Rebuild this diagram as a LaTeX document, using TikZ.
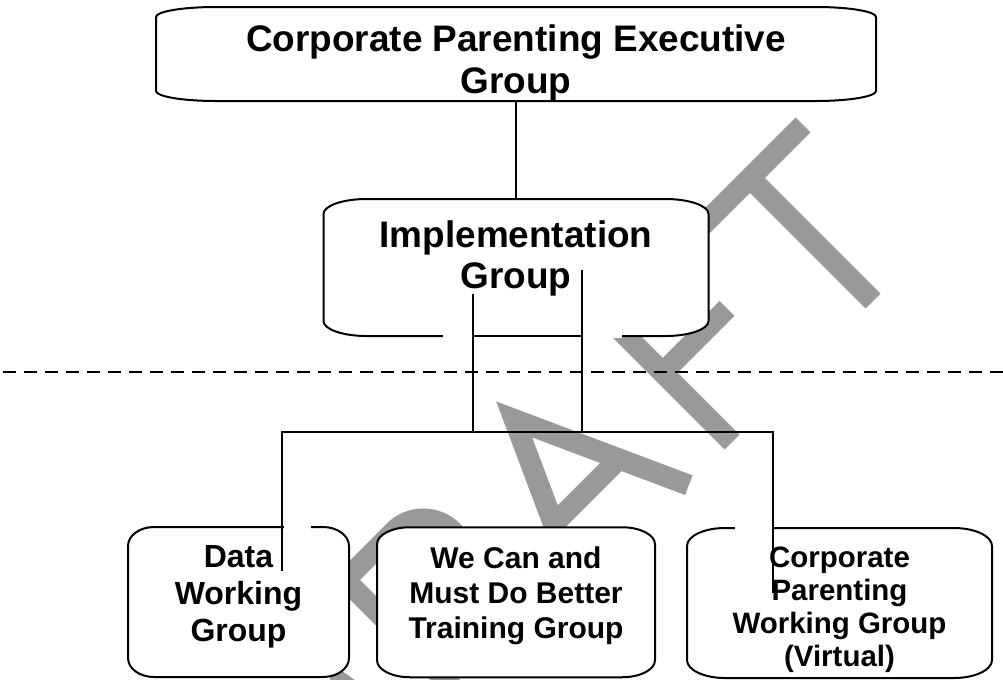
\documentclass[tikz,border=0pt]{standalone}
\usepackage{fontspec}
\newfontfamily\fArial{Liberation Sans}
\usetikzlibrary{calc}
\definecolor{wmgrey}{RGB}{153,153,153}
\newcommand\eoutline[3]{%
  \draw[boxline] ($(#1.north west)+(#2,0)$) -- ($(#1.north east)+(-#2,0)$)
    arc[start angle=90, end angle=0, x radius=#2*0.75pt, y radius=#3*0.75pt]
    -- ($(#1.south east)+(0,-#3)$)
    arc[start angle=0, end angle=-90, x radius=#2*0.75pt, y radius=#3*0.75pt]
    -- ($(#1.south west)+(#2,0)$)
    arc[start angle=270, end angle=180, x radius=#2*0.75pt, y radius=#3*0.75pt]
    -- ($(#1.north west)+(0,#3)$)
    arc[start angle=180, end angle=90, x radius=#2*0.75pt, y radius=#3*0.75pt]
    -- cycle;}
\begin{document}
\begin{tikzpicture}[x=0.75pt, y=-0.75pt,
  boxnode/.style={rectangle, inner sep=0pt, outer sep=0pt, draw=none},
  boxline/.style={draw=black, line width=1.5pt, fill=white, line join=round},
  conn/.style={draw=black, line width=1.5pt, line join=miter},
  gapline/.style={draw=white, line width=2.4pt},
  divider/.style={draw=black, line width=1.5pt, dash pattern=on 9.75pt off 6pt},
  wm/.style={draw=wmgrey, line width=15.75pt, line cap=butt, line join=miter},
  txt/.style={inner sep=0pt, anchor=base, text=black},
  big/.style={font=\fArial\bfseries\fontsize{27.7pt}{27.7pt}\selectfont},
  datat/.style={font=\fArial\bfseries\fontsize{24pt}{24pt}\selectfont},
  wet/.style={font=\fArial\bfseries\fontsize{22.5pt}{22.5pt}\selectfont},
  cpt/.style={font=\fArial\bfseries\fontsize{22.1pt}{22.1pt}\selectfont}]
\useasboundingbox (0,0) rectangle (1003,679);
\fill[white] (0,0) rectangle (1003,679);

% watermark
\begin{scope}
  \clip (330,0) rectangle (1003,679);
  \begin{scope}[shift={(587,587)}, rotate=45, x=0.75pt, y=0.75pt]
    \draw[wm] (-380,0) -- (-380,176) -- (-328,176) arc[start angle=90, end angle=-90, radius=88] -- cycle;
  \end{scope}
\end{scope}
\begin{scope}[shift={(587,587)}, rotate=45, x=0.75pt, y=0.75pt]
  \draw[wm] (-166,0) -- (-166,176) -- (-97,176) arc[start angle=90, end angle=-90, radius=41.5] -- (-166,93);
  \draw[wm] (-112,93) -- (-40,0);
  \draw[wm] (-10,0) -- (67,170) -- (144,0);
  \draw[wm] (20.6,68) -- (113.4,68);
  \draw[wm] (205,0) -- (205,176) -- (310,176);
  \draw[wm] (205,98) -- (296,98);
  \draw[wm] (404.5,0) -- (404.5,174);
  \draw[wm] (329.5,174) -- (479.5,174);
\end{scope}

% box frames
\node[boxnode, minimum width=540pt, minimum height=70.5pt] (exec) at (516,54) {};
\node[boxnode, minimum width=288.75pt, minimum height=102.75pt] (impl) at (516,267.5) {};
\node[boxnode, minimum width=165.75pt, minimum height=112.5pt] (data) at (238.5,602) {};
\node[boxnode, minimum width=208.5pt, minimum height=112.5pt] (wecan) at (516,602.25) {};
\node[boxnode, minimum width=228.75pt, minimum height=112.5pt] (cpwg) at (839.5,603) {};
\eoutline{exec}{60}{10}
\eoutline{impl}{43}{15}
\eoutline{data}{26}{19}
\eoutline{wecan}{33}{17}
\eoutline{cpwg}{38}{18}

% openings in the frames
\draw[gapline] (443,336) -- (622,336);
\draw[gapline] (284,527) -- (311,527);
\draw[gapline] (735,528) -- (772,528);

% divider
\coordinate (dl) at (3,372);
\coordinate (dr) at (1003,372);
\draw[divider] (dl) -- (dr);

% connectors
\coordinate (iL) at (473,294);
\coordinate (iR) at (582,270);
\coordinate (busL) at (282,432);
\coordinate (busR) at (773,432);
\coordinate (dEnd) at (282,571);
\coordinate (cEnd) at (773,593);
\draw[conn] (exec.south) -- (impl.north);
\draw[conn] (iL) -- (iL |- busL);
\draw[conn] (iR) -- (iR |- busL);
\draw[conn] (iL |- impl.south) -- (iR |- impl.south);
\draw[conn] (dEnd) -- (busL) -- (busR) -- (cEnd);

% texts
\node[txt, big] (execA) at (516,51) {Corporate Parenting Executive};
\node[txt, big] (execB) at (516,93.5) {Group};
\node[txt, big] (implA) at (516,247) {Implementation};
\node[txt, big] (implB) at (516,288) {Group};
\node[txt, datat] (dataA) at (238.5,567) {Data};
\node[txt, datat] (dataB) at (238.5,604) {Working};
\node[txt, datat] (dataC) at (238.5,641) {Group};
\node[txt, wet] (weA) at (516,568) {We Can and};
\node[txt, wet] (weB) at (516,603) {Must Do Better};
\node[txt, wet] (weC) at (516,638) {Training Group};
\node[txt, cpt] (cpA) at (839.5,567) {Corporate};
\node[txt, cpt] (cpB) at (839.5,600) {Parenting};
\node[txt, cpt] (cpC) at (839.5,633) {Working Group};
\node[txt, cpt] (cpD) at (839.5,666) {(Virtual)};
\end{tikzpicture}
\end{document}
